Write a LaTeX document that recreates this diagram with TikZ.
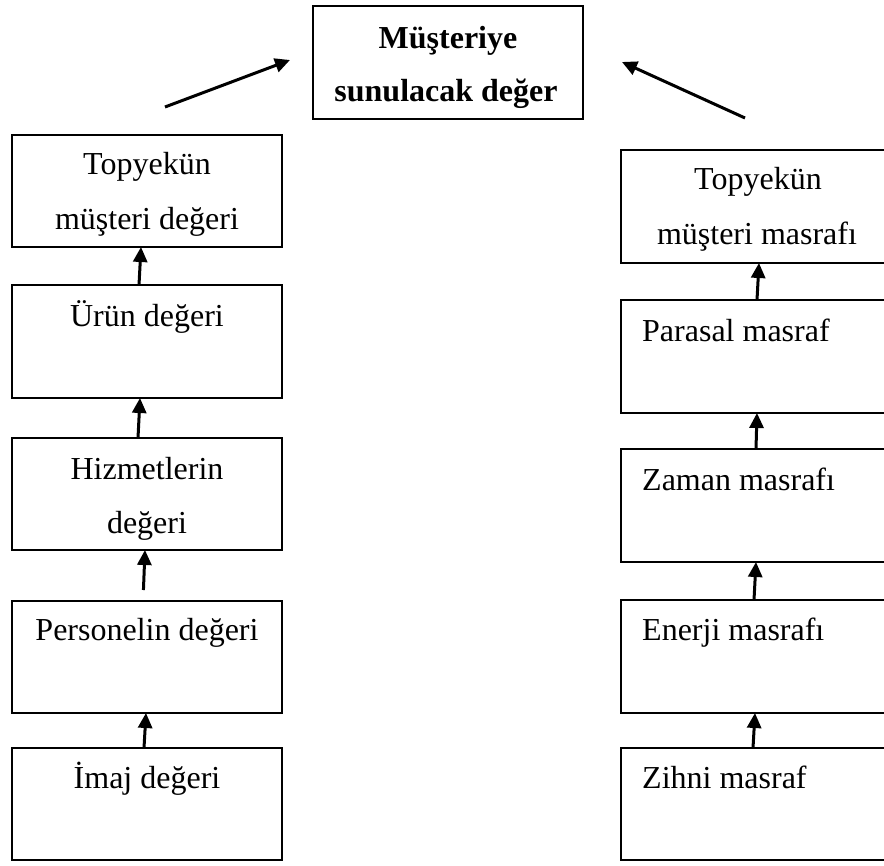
\documentclass[tikz,border=0pt]{standalone}
\usepackage{fontspec}
\setmainfont{Liberation Serif}
\usetikzlibrary{arrows.meta}
\tikzset{
  box/.style={draw, line width=1.8pt, rectangle, inner sep=0pt, outer sep=0pt, anchor=north west},
  lbl/.style={anchor=base, inner sep=0pt, font=\fontsize{32}{38}\selectfont},
  lblw/.style={lbl, anchor=base west},
  lblb/.style={lbl, font=\fontsize{32}{38}\selectfont\bfseries},
  up/.style={line width=3pt, -{Triangle[length=15pt,width=14pt]}},
}
\begin{document}
\begin{tikzpicture}[x=1pt,y=-1pt]
\useasboundingbox (0,0) rectangle (884,866);
\fill[white] (0,0) rectangle (884,866);
\clip (0,0) rectangle (884,866);

% central box
\node[box, minimum width=270pt, minimum height=113pt] (top) at (313,6) {};
\node[lblb] (topa) at (448,49) {Müşteriye};
\node[lblb] (topb) at (446,102) {sunulacak değer};

% value column
\node[box, minimum width=270pt, minimum height=112pt] (L1) at (12,135) {};
\node[box, minimum width=270pt, minimum height=113pt] (L2) at (12,285) {};
\node[box, minimum width=270pt, minimum height=112pt] (L3) at (12,438) {};
\node[box, minimum width=270pt, minimum height=112pt] (L4) at (12,601) {};
\node[box, minimum width=270pt, minimum height=112pt] (L5) at (12,748) {};

\node[lbl] (l1a) at (147,175) {Topyekün};
\node[lbl] (l1b) at (147,230) {müşteri değeri};
\node[lbl] (l2a) at (147,327) {Ürün değeri};
\node[lbl] (l3a) at (147,480) {Hizmetlerin};
\node[lbl] (l3b) at (147,533) {değeri};
\node[lbl] (l4a) at (147,640) {Personelin değeri};
\node[lbl] (l5a) at (147,788) {İmaj değeri};

% cost column (runs past the right edge)
\node[box, minimum width=272pt, minimum height=113pt] (R1) at (621,150) {};
\node[box, minimum width=272pt, minimum height=113pt] (R2) at (621,300) {};
\node[box, minimum width=272pt, minimum height=113pt] (R3) at (621,449) {};
\node[box, minimum width=272pt, minimum height=113pt] (R4) at (621,600) {};
\node[box, minimum width=272pt, minimum height=112pt] (R5) at (621,748) {};

\node[lbl] (r1a) at (758,190) {Topyekün};
\node[lbl] (r1b) at (757,245) {müşteri masrafı};
\node[lblw] (r2a) at (642,342) {Parasal masraf};
\node[lblw] (r3a) at (642,490) {Zaman masrafı};
\node[lblw] (r4a) at (642,640) {Enerji masrafı};
\node[lblw] (r5a) at (642,788) {Zihni masraf};

% upward arrows, value column
\draw[up] ([xshift=-8pt]L2.north) -- ([xshift=-6pt]L1.south);
\draw[up] ([xshift=-9pt]L3.north) -- ([xshift=-7pt]L2.south);
\draw[up, shorten <=11pt] ([xshift=-4pt]L4.north) -- ([xshift=-2pt]L3.south);
\draw[up] ([xshift=-3pt]L5.north) -- ([xshift=-1pt]L4.south);

% upward arrows, cost column
\draw[up] ([xshift=0pt]R2.north) -- ([xshift=2pt]R1.south);
\draw[up] ([xshift=-1pt]R3.north) -- ([xshift=0pt]R2.south);
\draw[up] ([xshift=-3pt]R4.north) -- ([xshift=-1pt]R3.south);
\draw[up] ([xshift=-4pt]R5.north) -- ([xshift=-2pt]R4.south);

% arrows towards the central box
\coordinate (lt) at (165,107);
\coordinate (rt) at (745,118);
\draw[up] (lt) -- ([xshift=-23pt, yshift=2.5pt]top.west);
\draw[up] (rt) -- ([xshift=39pt, yshift=0.5pt]top.east);
\end{tikzpicture}
\end{document}
